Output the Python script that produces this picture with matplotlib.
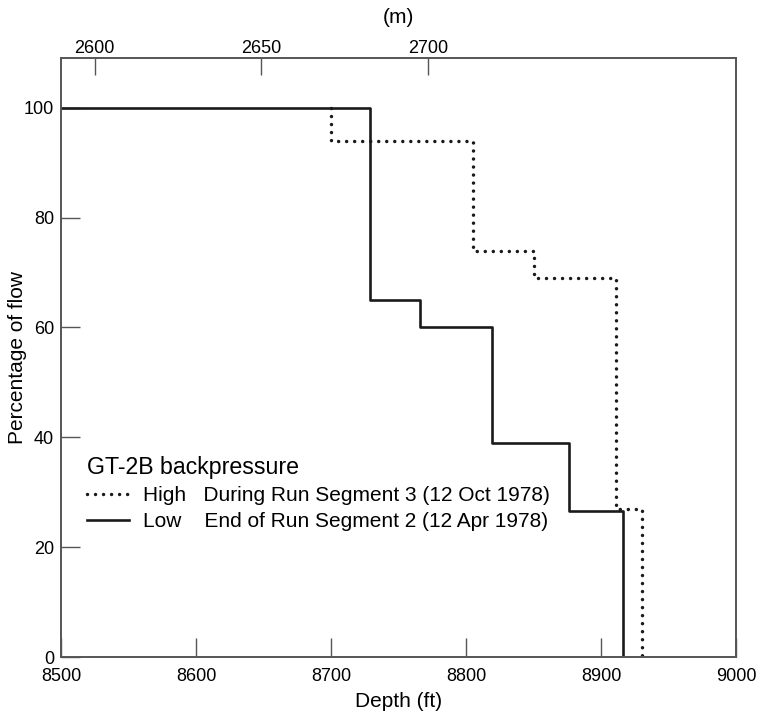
import matplotlib
matplotlib.use("Agg")
import matplotlib.pyplot as plt

plt.rcParams['font.family'] = ['Liberation Sans', 'DejaVu Sans']

# Data (depth in ft, percentage of flow) - step profiles
low_depth = [8500, 8729, 8729, 8766, 8766, 8819, 8819, 8876, 8876, 8916, 8916]
low_flow = [100, 100, 65, 65, 60, 60, 39, 39, 26.5, 26.5, 0]

high_depth = [8700, 8700, 8805, 8805, 8850, 8850, 8911, 8911, 8930, 8930]
high_flow = [100, 94, 94, 74, 74, 69, 69, 27, 27, 0]

x_ticks = [8500, 8600, 8700, 8800, 8900, 9000]
y_ticks = [0, 20, 40, 60, 80, 100]
m_ticks = [2600, 2650, 2700]
m_limits = (2589.9, 2792.5)

line_color = '#1a1a1a'
axis_color = '#555555'

fig = plt.figure(figsize=(7.59, 7.16), dpi=100)
ax = fig.add_axes([0.0804, 0.0824, 0.8893, 0.8362])

ax.plot(high_depth, high_flow, color=line_color, lw=2.5,
        linestyle=(0, (0.01, 2.3)), dash_capstyle='round',
        label='High   During Run Segment 3 (12 Oct 1978)')
ax.plot(low_depth, low_flow, color=line_color, lw=1.9,
        label='Low    End of Run Segment 2 (12 Apr 1978)')

ax.set_xlim(8500, 9000)
ax.set_ylim(0, 109)
ax.set_xticks(x_ticks)
ax.set_yticks(y_ticks)
ax.tick_params(axis='both', direction='in', length=13.5, width=1.0,
               color=axis_color, labelsize=13)
ax.tick_params(axis='x', pad=8)
ax.tick_params(axis='y', pad=5)
ax.set_xlabel('Depth (ft)', fontsize=15, labelpad=5)
ax.set_ylabel('Percentage of flow', fontsize=15, labelpad=-2)
for sp in ax.spines.values():
    sp.set_color(axis_color)
    sp.set_linewidth(1.4)

ax2 = ax.twiny()
ax2.set_xlim(*m_limits)
ax2.set_xticks(m_ticks)
ax2.tick_params(axis='x', direction='in', length=12.5, width=1.0,
                color=axis_color, labelsize=13, pad=1)
ax2.set_xlabel('(m)', fontsize=15, labelpad=12)
for sp in ax2.spines.values():
    sp.set_visible(False)

leg = ax.legend(loc='upper left', bbox_to_anchor=(0.0385, 0.336),
                frameon=False, fontsize=15, title='GT-2B backpressure',
                title_fontsize=16.7, alignment='left', handlelength=2.0,
                handletextpad=0.7, borderpad=0, borderaxespad=0,
                labelspacing=0.35)

fig.savefig('out.png', dpi=100)
